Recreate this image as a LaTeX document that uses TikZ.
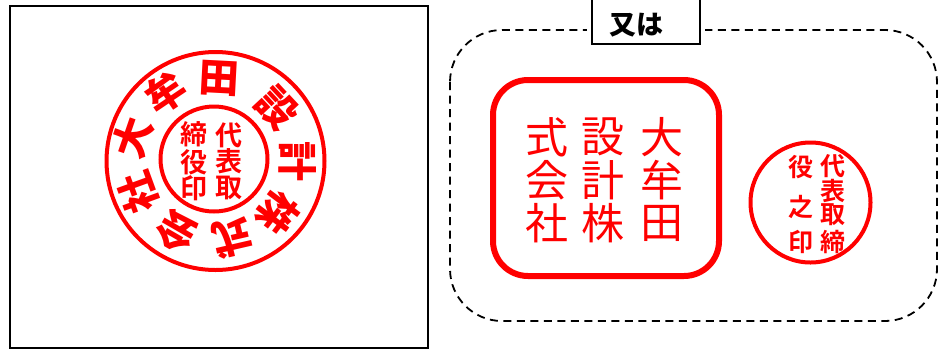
\documentclass[tikz,border=0pt]{standalone}
\usepackage{fontspec}
\setmainfont{Noto Sans CJK JP}[BoldFont={* Bold}]
\newfontfamily\cjkbold{Noto Sans CJK JP Bold}
\newfontfamily\cjkblack{Noto Sans CJK JP Black}
\definecolor{sealred}{RGB}{255,0,0}
\tikzset{
  ringch/.style={text=sealred,inner sep=0pt,font=\fontsize{40}{40}\cjkblack},
  innerch/.style={text=sealred,inner sep=0pt,font=\fontsize{27}{27}\cjkbold},
  bigch/.style={text=sealred,inner sep=0pt,font=\fontsize{43}{43}\selectfont},
  smallch/.style={text=sealred,inner sep=0pt,font=\fontsize{25}{25}\cjkbold},
  sealline/.style={draw=sealred,line width=4pt},
}
\begin{document}
\begin{tikzpicture}[x=1pt,y=-1pt]
\useasboundingbox (0,0) rectangle (947,349);
\draw[line width=1.5pt] (10,6) rectangle (428,348);
\draw[sealline] (215.5,161) circle (109);
\draw[sealline] (214,159) ellipse [x radius=53.5,y radius=52.5];
\node[ringch,rotate=71] (r1) at (133,138) {大};
\node[ringch,rotate=34] (r2) at (166,93) {牟};
\node[ringch,rotate=-3] (r3) at (219,78) {田};
\node[ringch,rotate=-47] (r4) at (277,108) {設};
\node[ringch,rotate=-90] (r5) at (298,161) {計};
\node[ringch,rotate=-127] (r6) at (278,213) {株};
\node[ringch,rotate=-167] (r7) at (232,238) {式};
\node[ringch,rotate=150] (r8) at (177,232) {会};
\node[ringch,rotate=110] (r9) at (138,193) {社};
\node[innerch] (i1) at (229,135) {代};
\node[innerch] (i2) at (229,161) {表};
\node[innerch] (i3) at (229,188) {取};
\node[innerch] (i4) at (194,134) {締};
\node[innerch] (i5) at (194,162) {役};
\node[innerch] (i6) at (194,188) {印};
\draw[line width=1.8pt,dash pattern=on 8pt off 5.5pt,rounded corners=52pt] (450,30) rectangle (937,321);
\fill[white] (587,-2) rectangle (705,48);
\draw[line width=1.5pt] (592,-3) rectangle (700,44);
\node[inner sep=0pt,font=\fontsize{27}{27}\cjkblack] (tab) at (636,25) {又は};
\draw[sealred,line width=6pt,rounded corners=35pt] (493,80) rectangle (719,276);
\node[bigch] (b1) at (662,137) {大};
\node[bigch] (b2) at (662,180) {牟};
\node[bigch] (b3) at (662,223) {田};
\node[bigch] (b4) at (603,137) {設};
\node[bigch] (b5) at (603,180) {計};
\node[bigch] (b6) at (603,223) {株};
\node[bigch] (b7) at (547,137) {式};
\node[bigch] (b8) at (547,180) {会};
\node[bigch] (b9) at (547,223) {社};
\draw[sealline] (810.5,202.5) circle (60);
\node[smallch] (s1) at (833,166) {代};
\node[smallch] (s2) at (833,191) {表};
\node[smallch] (s3) at (833,215) {取};
\node[smallch] (s4) at (833,242) {締};
\node[smallch] (s5) at (801,167) {役};
\node[smallch] (s6) at (801,207) {之};
\node[smallch] (s7) at (801,242) {印};
\end{tikzpicture}
\end{document}
